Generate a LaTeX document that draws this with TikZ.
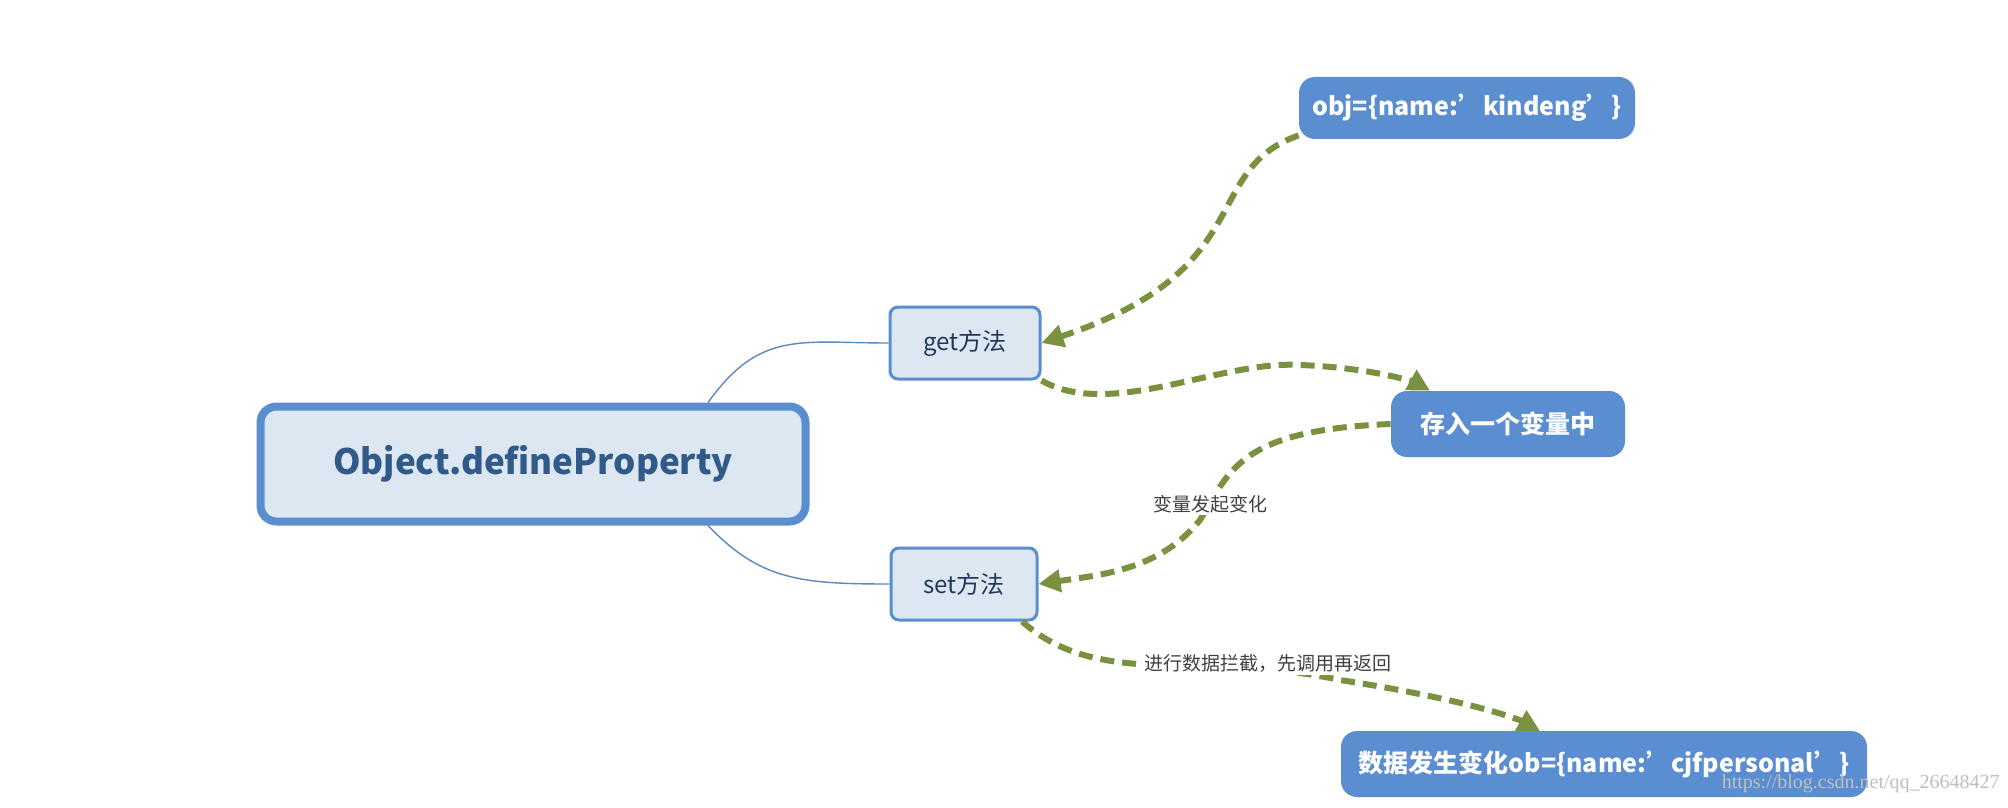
\documentclass[tikz,border=0pt]{standalone}
\usepackage{fontspec}
\setmainfont{Noto Sans CJK SC}
\newfontfamily\wm{Liberation Serif}
\usetikzlibrary{arrows.meta}
\definecolor{bblue}{HTML}{5A8ED0}
\definecolor{lfill}{HTML}{DDE7F2}
\definecolor{dtext}{HTML}{2F5A8A}
\definecolor{gtext}{HTML}{23395B}
\definecolor{dgreen}{HTML}{7A9140}
\definecolor{lblue}{HTML}{5B88C0}
\begin{document}
\begin{tikzpicture}[x=0.5pt,y=-0.5pt,
  light/.style={draw=bblue,fill=lfill,rounded corners=4pt,line width=1.5pt,text=gtext,font=\fontsize{12}{14}\selectfont},
  solid/.style={fill=bblue,rounded corners=8pt,text=white,font=\bfseries\fontsize{12.5}{14}\selectfont},
  link/.style={draw=lblue,line width=0.7pt},
  flow/.style={draw=dgreen,line width=3pt,dash pattern=on 7pt off 4pt,-{Triangle[length=11pt,width=11pt]}},
  lab/.style={fill=white,text=black!75,font=\fontsize{9.5}{11}\selectfont,inner sep=1pt}]
\useasboundingbox (0,0) rectangle (2008,808);
\fill[white] (0,0) rectangle (2008,808);
\node[draw=bblue,fill=lfill,rounded corners=8pt,line width=4pt,minimum width=545pt/2,minimum height=115pt/2,text=dtext,font=\bfseries\fontsize{17.5}{20}\selectfont] (obj0) at (533,464) {Object.defineProperty};
\node[light,minimum width=75pt,minimum height=36pt] (get) at (965,343) {get方法};
\node[light,minimum width=73pt,minimum height=36pt] (set) at (964,584) {set方法};
\node[solid,minimum width=168pt,minimum height=31pt] (o1) at (1467,108) {obj=\{name:'kindeng'\}};
\node[solid,minimum width=117pt,minimum height=33pt] (st) at (1508,424) {存入一个变量中};
\node[solid,minimum width=263pt,minimum height=33pt] (bt) at (1604,764) {数据发生变化ob=\{name:'cjfpersonal'\}};
\node[text=black!25,font=\wm\fontsize{10}{12}\selectfont,anchor=east,inner sep=0] (wm) at (2000,784) {https://blog.csdn.net/qq\_26648427};
\draw[link] (obj0.north) ++(175,0) coordinate (a1) .. controls (760,330) and (800,343) .. (get.west);
\draw[link] (obj0.south) ++(175,0) coordinate (a2) .. controls (760,580) and (800,584) .. (set.west);
\draw[flow] (o1.south west) ++(0,-4) .. controls (1200,170) and (1260,270) .. (get.east);
\draw[flow] (get.south east) .. controls (1110,420) and (1220,360) .. (1300,365) .. controls (1380,368) and (1420,385) .. (st.north west -| 1430,0);
\draw[flow] (st.west) .. controls (1240,430) and (1230,470) .. (1200,520) .. controls (1160,570) and (1100,575) .. (set.east);
\node[lab] (l1) at (1210,504) {变量发起变化};
\draw[flow] (set.south) ++(58,0) .. controls (1100,690) and (1200,650) .. (1340,680) .. controls (1470,700) and (1520,720) .. (1540,731);
\node[lab] (l2) at (1268,664) {进行数据拦截，先调用再返回};
\end{tikzpicture}
\end{document}
